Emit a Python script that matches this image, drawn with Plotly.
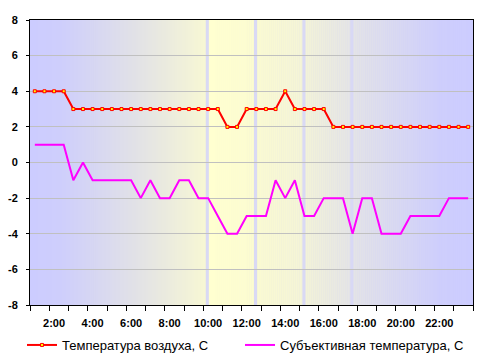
import plotly.graph_objects as go

# ---- data ----
idx = list(range(46))  # half-hour categories from 1:00 to 23:30
air_temp = [4, 4, 4, 4, 3, 3, 3, 3, 3, 3, 3, 3, 3, 3, 3, 3, 3, 3, 3, 3,
            2, 2, 3, 3, 3, 3, 4, 3, 3, 3, 3, 2, 2, 2, 2, 2, 2, 2, 2, 2,
            2, 2, 2, 2, 2, 2]
feel_temp = [1, 1, 1, 1, -1, 0, -1, -1, -1, -1, -1, -2, -1, -2, -2, -1, -1, -2, -2, -3,
             -4, -4, -3, -3, -3, -1, -2, -1, -3, -3, -2, -2, -2, -4, -2, -2, -4, -4, -4, -3,
             -3, -3, -3, -2, -2, -2]
x_tick_pos = [2, 6, 10, 14, 18, 22, 26, 30, 34, 38, 42]
x_tick_labels = ["2:00", "4:00", "6:00", "8:00", "10:00", "12:00", "14:00",
                 "16:00", "18:00", "20:00", "22:00"]
y_tick_vals = [-8, -6, -4, -2, 0, 2, 4, 6, 8]
y_tick_labels = ["-8", "-6", "-4", "-2", "0", "2", "4", "6", "8"]
series_names = ["Температура воздуха, С", "Субъективная температура, С"]

# ---- background styling (decorative gradient & stripes) ----
L, R = 29.5, 473.0
grad_stops = [  # (pixel x, rgb)
    (29.5, (204, 204, 255)), (60, (206, 206, 252)), (130, (224, 224, 232)),
    (206, (247, 247, 212)), (208, (255, 255, 208)), (254, (252, 252, 208)),
    (256, (250, 250, 210)), (302, (245, 245, 214)), (305, (243, 243, 216)),
    (360, (226, 226, 232)), (440, (206, 206, 252)), (473, (204, 204, 255)),
]

def px_to_x(px):
    return (px - L) / (R - L) * 46 - 0.5

def color_at(px):
    for (a, ca), (b, cb) in zip(grad_stops[:-1], grad_stops[1:]):
        if a <= px <= b:
            t = 0 if b == a else (px - a) / (b - a)
            c = [round(ca[i] + (cb[i] - ca[i]) * t) for i in range(3)]
            return "rgb(%d,%d,%d)" % tuple(c)
    return "rgb(204,204,255)"

shapes = []
step = 2.0
p = L
while p < R:
    q = min(p + step, R)
    shapes.append(dict(type="rect", xref="x", yref="y", x0=px_to_x(p), x1=px_to_x(q) + 0.02,
                       y0=-8, y1=8, fillcolor=color_at((p + q) / 2), line=dict(width=0),
                       layer="below"))
    p = q
for sp in [207, 255.3, 303.7, 351.7]:
    xs = px_to_x(sp)
    shapes.append(dict(type="rect", xref="x", yref="y", x0=xs - 0.16, x1=xs + 0.16,
                       y0=-8, y1=8, fillcolor="rgba(215,215,245,0.95)", line=dict(width=0),
                       layer="below"))

fig = go.Figure()
fig.add_trace(go.Scatter(
    x=idx, y=air_temp, name=series_names[0], mode="lines+markers",
    line=dict(color="#FF0000", width=2),
    marker=dict(symbol="square", size=3, color="#FFFF00", line=dict(color="#FF0000", width=1)),
    legend="legend",
))
fig.add_trace(go.Scatter(
    x=idx, y=feel_temp, name=series_names[1], mode="lines",
    line=dict(color="#FF00FF", width=2),
    legend="legend2",
))

legend_font = dict(family="Liberation Sans, Arial", size=13, color="black")
fig.update_layout(
    width=486, height=362,
    margin=dict(l=30, r=13, t=20, b=57),
    paper_bgcolor="white", plot_bgcolor="#CCCCFF",
    shapes=shapes,
    showlegend=True,
    legend=dict(orientation="h", xref="container", yref="container", x=22 / 486, y=1 - 330 / 362,
                xanchor="left", yanchor="top", font=legend_font, bgcolor="rgba(0,0,0,0)"),
    legend2=dict(orientation="h", xref="container", yref="container", x=240 / 486, y=1 - 330 / 362,
                 xanchor="left", yanchor="top", font=legend_font, bgcolor="rgba(0,0,0,0)"),
    font=dict(family="Liberation Sans, Arial", color="black"),
)
fig.update_xaxes(
    range=[-0.5, 45.5], tickmode="array", tickvals=x_tick_pos, ticktext=x_tick_labels,
    ticks="", showgrid=False, zeroline=False, automargin=False,
    showline=True, linecolor="black", linewidth=1, mirror=True,
    ticklabelstandoff=8,
    tickfont=dict(family="Liberation Sans, Arial", size=11, color="black", weight="bold"),
    minor=dict(tickmode="linear", tick0=-0.5, dtick=2, ticks="outside", ticklen=5,
               tickcolor="black", tickwidth=1, showgrid=False),
)
fig.update_yaxes(
    range=[-8, 8], tickmode="array", tickvals=y_tick_vals, ticktext=y_tick_labels,
    ticks="outside", ticklen=3, tickcolor="black", automargin=False,
    showgrid=True, gridcolor="#C0C0C0", gridwidth=1, zeroline=False,
    showline=True, linecolor="black", linewidth=1, mirror=True,
    ticklabelstandoff=6,
    tickfont=dict(family="Liberation Sans, Arial", size=11, color="black", weight="bold"),
)

fig.write_html("out.html")
